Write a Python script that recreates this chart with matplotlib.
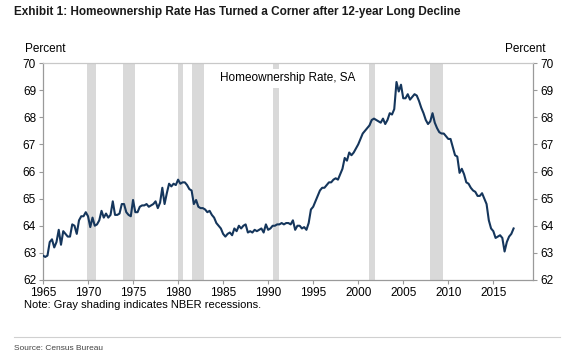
import numpy as np
import matplotlib.pyplot as plt

# quarterly homeownership rate, SA (percent), 1965Q1 - 2017Q2
rate = [
    62.9, 62.85, 62.9, 63.4,   # 1965
    63.5, 63.2, 63.4, 63.85,   # 1966
    63.3, 63.8, 63.7, 63.6,    # 1967
    63.6, 64.05, 64.0, 63.7,   # 1968
    64.2, 64.35, 64.35, 64.5,  # 1969
    64.35, 63.95, 64.3, 64.0,  # 1970
    64.05, 64.2, 64.55, 64.3,  # 1971
    64.45, 64.3, 64.4, 64.9,   # 1972
    64.4, 64.4, 64.45, 64.8,   # 1973
    64.8, 64.5, 64.4, 64.35,   # 1974
    64.95, 64.5, 64.5, 64.7,   # 1975
    64.75, 64.75, 64.8, 64.7,  # 1976
    64.75, 64.8, 64.9, 64.65,  # 1977
    64.85, 65.4, 64.8, 65.2,   # 1978
    65.55, 65.45, 65.55, 65.5, # 1979
    65.7, 65.55, 65.6, 65.6,   # 1980
    65.5, 65.35, 65.3, 64.8,   # 1981
    64.95, 64.7, 64.65, 64.65, # 1982
    64.6, 64.5, 64.55, 64.4,   # 1983
    64.3, 64.1, 64.0, 63.9,    # 1984
    63.7, 63.6, 63.7, 63.75,   # 1985
    63.65, 63.9, 63.8, 64.0,   # 1986
    63.9, 64.0, 64.05, 63.75,  # 1987
    63.8, 63.75, 63.85, 63.8,  # 1988
    63.85, 63.9, 63.75, 64.05, # 1989
    63.85, 63.9, 64.0, 64.0,   # 1990
    64.05, 64.05, 64.1, 64.05, # 1991
    64.1, 64.1, 64.05, 64.2,   # 1992
    63.85, 64.0, 64.0, 63.9,   # 1993
    63.95, 63.85, 64.1, 64.6,  # 1994
    64.7, 64.9, 65.1, 65.3,    # 1995
    65.4, 65.4, 65.5, 65.6,    # 1996
    65.6, 65.7, 65.75, 65.7,   # 1997
    65.9, 66.1, 66.5, 66.4,    # 1998
    66.7, 66.6, 66.7, 66.85,   # 1999
    67.0, 67.2, 67.4, 67.5,    # 2000
    67.6, 67.7, 67.9, 67.95,   # 2001
    67.9, 67.85, 67.8, 67.95,  # 2002
    67.75, 67.9, 68.15, 68.1,  # 2003
    68.3, 69.3, 68.95, 69.2,   # 2004
    68.7, 68.7, 68.85, 68.65,  # 2005
    68.75, 68.85, 68.8, 68.6,  # 2006
    68.35, 68.15, 67.9, 67.75, # 2007
    67.85, 68.15, 67.8, 67.6,  # 2008
    67.45, 67.4, 67.4, 67.3,   # 2009
    67.2, 67.2, 66.9, 66.6,    # 2010
    66.55, 65.95, 66.1, 65.9,  # 2011
    65.6, 65.55, 65.4, 65.3,   # 2012
    65.25, 65.1, 65.1, 65.2,   # 2013
    65.0, 64.8, 64.2, 63.9,    # 2014
    63.8, 63.55, 63.6, 63.65,  # 2015
    63.55, 63.05, 63.4, 63.6,  # 2016
    63.7, 63.9,                # 2017
]
years = 1965 + np.arange(len(rate)) / 4

rec_start = [1969.92, 1973.88, 1980.0, 1981.54, 1990.54, 2001.21, 2007.92]
rec_end = [1970.88, 1975.21, 1980.54, 1982.88, 1991.21, 2001.88, 2009.46]

navy = '#15365c'
grey = '#9a9a9a'

plt.rcParams['font.family'] = ['Liberation Sans', 'DejaVu Sans']

fig = plt.figure(figsize=(5.7, 3.56), dpi=100)
ax = fig.add_axes([0.0754, 0.2135, 0.8596, 0.6095])

for s, e in zip(rec_start, rec_end):
    ax.axvspan(s, e, color='#d9d9d9', lw=0, zorder=0)

ax.plot(years, rate, color=navy, lw=1.5, zorder=3)

ax.set_xlim(1965, 2019.4)
ax.set_ylim(62, 70)
ax.set_xticks(range(1965, 2016, 5))
ax.set_yticks(range(62, 71))
ax.tick_params(axis='both', labelsize=8.5, color=grey, length=3, width=0.8, pad=2)
ax.tick_params(axis='y', right=True, labelright=True)
for sp in ax.spines.values():
    sp.set_color('#c8c8c8')
    sp.set_linewidth(0.9)
ax.spines['bottom'].set_color(grey)
ax.spines['left'].set_color(grey)
ax.spines['right'].set_color(grey)

ax.text(0.5, 0.93, 'Homeownership Rate, SA', transform=ax.transAxes, ha='center', va='center',
        fontsize=8.5, zorder=4, bbox=dict(facecolor='white', edgecolor='none', pad=2.5))

fig.text(25 / 570, 1 - 49 / 356, 'Percent', fontsize=8.5, va='center')
fig.text(545 / 570, 1 - 49 / 356, 'Percent', fontsize=8.5, va='center', ha='right')
fig.text(24 / 570, 1 - 305 / 356, 'Note: Gray shading indicates NBER recessions.', fontsize=8, va='center')

fig.text(14 / 570, 1 - 12 / 356, 'Exhibit 1: Homeownership Rate Has Turned a Corner after 12-year Long Decline',
         fontsize=8.5, fontweight='bold', va='center', color='#1a1a1a',
         family=['Liberation Sans Narrow', 'Liberation Sans', 'DejaVu Sans'])
fig.add_artist(plt.Line2D([14 / 570, 560 / 570], [1 - 337 / 356] * 2, color='#d0d0d0', lw=0.8))
fig.text(14 / 570, 1 - 348 / 356, 'Source: Census Bureau', fontsize=6, va='center', color='#444444',
         family=['Liberation Sans Narrow', 'Liberation Sans', 'DejaVu Sans'])

fig.savefig('out.png', dpi=100)
